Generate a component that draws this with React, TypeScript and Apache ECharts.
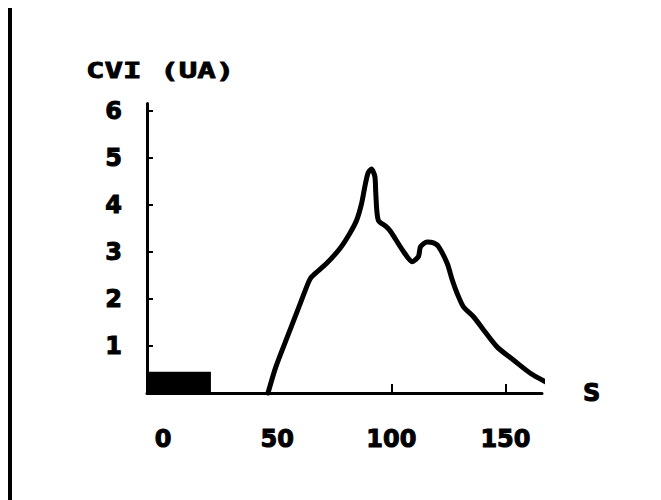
import React, { useEffect, useRef } from "react";
import * as echarts from "echarts";

// Time (s) and CVI (arbitrary units)
const timeS = [46, 49.4, 55.1, 59, 63.8, 65.1, 71.6, 77.5, 81.8, 84.8, 87, 88.4, 89.8, 91.3, 92.8, 93.2, 94.3, 97.9, 99.7, 105.4, 109.2, 111.9, 112.8, 115.7, 118.5, 120.7, 124.5, 126.7, 128.8, 131.6, 136, 140.4, 146.3, 153.5, 160.9, 167.5];
const cvi = [0, 0.55, 1.27, 1.76, 2.36, 2.47, 2.75, 3.07, 3.39, 3.67, 4.03, 4.38, 4.67, 4.76, 4.6, 4.24, 3.67, 3.53, 3.43, 3.0, 2.79, 2.9, 3.11, 3.21, 3.19, 3.11, 2.75, 2.4, 2.12, 1.83, 1.62, 1.34, 0.98, 0.7, 0.42, 0.24];

// Injection bar (start, end in s) and its height
const pulseX = [-7, 21];
const pulseHeight = 0.45;

const xLabels = [0, 50, 100, 150];
const xTicks = [100, 150];
const yLabels = [1, 2, 3, 4, 5, 6];
const yTicks = [1, 2, 3, 4, 5, 6];

export default function App() {
  const ref = useRef<HTMLDivElement>(null);
  useEffect(() => {
    if (!ref.current) return;
    const chart = echarts.init(ref.current, null, { renderer: "svg" });
    const font = "DejaVu Sans";
    const labelStyle = {
      fontFamily: font,
      fontWeight: "bold",
      fontSize: 24,
      color: "#000",
      textBorderColor: "#000",
      textBorderWidth: 1,
    };
    chart.setOption({
      animation: false,
      backgroundColor: "#fff",
      grid: { left: 147, right: 119, top: 103.5, bottom: 107, containLabel: false },
      xAxis: {
        type: "value",
        min: -7,
        max: 166,
        name: "S",
        nameLocation: "end",
        nameGap: 41,
        nameTextStyle: { ...labelStyle, verticalAlign: "middle" },
        axisLine: { show: true, onZero: false, lineStyle: { color: "#000", width: 3 } },
        axisTick: { show: true, inside: true, length: 9, customValues: xTicks, lineStyle: { color: "#000", width: 2 } },
        axisLabel: { show: true, customValues: xLabels, margin: 34, ...labelStyle },
        splitLine: { show: false },
      },
      yAxis: {
        type: "value",
        min: 0,
        max: 6.15,
        axisLine: { show: true, onZero: false, lineStyle: { color: "#000", width: 3 } },
        axisTick: { show: true, inside: true, length: 6, customValues: yTicks, lineStyle: { color: "#000", width: 2 } },
        axisLabel: { show: true, customValues: yLabels, margin: 25, padding: [5, 0, 0, 0], ...labelStyle },
        splitLine: { show: false },
      },
      graphic: [
        { type: "rect", shape: { x: 8, y: 8, width: 4, height: 492 }, style: { fill: "#000" } },
        {
          type: "text",
          x: 86,
          y: 70,
          scaleX: 1.4,
          style: {
            text: "CVI (UA)",
            font: "bold 22px 'DejaVu Sans Mono'",
            fill: "#000",
            stroke: "#000",
            lineWidth: 0.8,
            textVerticalAlign: "middle",
            textAlign: "left",
          },
        },
      ],
      series: [
        {
          type: "line",
          data: timeS.map((t, i) => [t, cvi[i]]),
          showSymbol: false,
          symbol: "none",
          smooth: 0.25,
          clip: false,
          lineStyle: { color: "#000", width: 5, cap: "round", join: "round" },
          markArea: {
            silent: true,
            itemStyle: { color: "#000", opacity: 1 },
            data: [[{ coord: [pulseX[0], 0] }, { coord: [pulseX[1], pulseHeight] }]],
          },
        },
      ],
    });
    return () => chart.dispose();
  }, []);
  return <div ref={ref} style={{ position: "fixed", left: 0, top: 0, width: 661, height: 500 }} />;
}
